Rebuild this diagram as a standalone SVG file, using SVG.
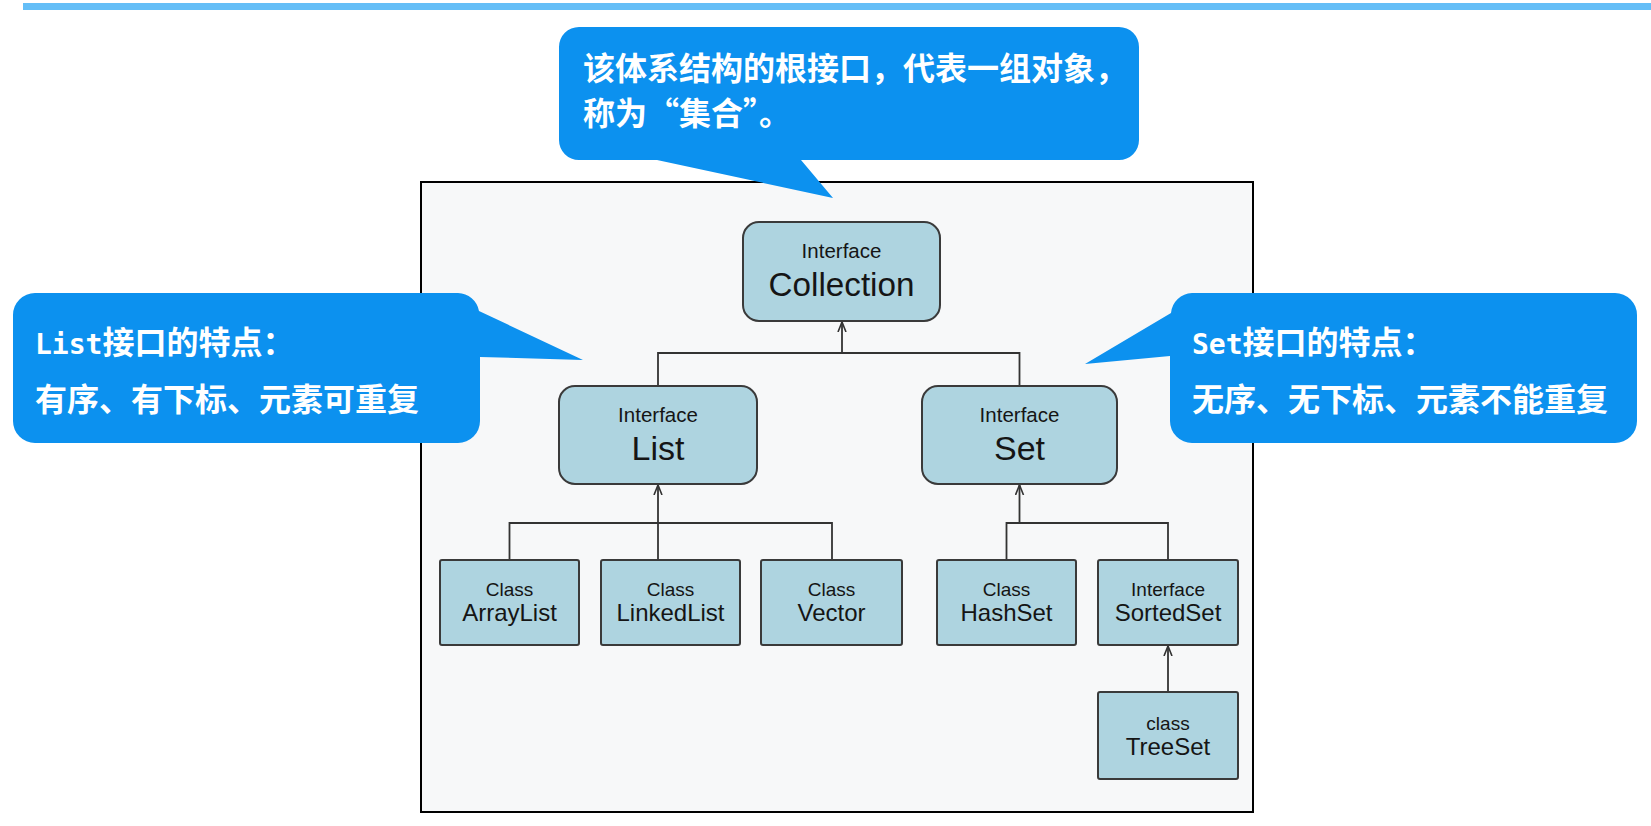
<svg xmlns="http://www.w3.org/2000/svg" width="1651" height="826" viewBox="0 0 1651 826">
<style>
.bubble{fill:#0c91ef}
.bt{font-family:"Noto Sans CJK SC","Noto Sans",sans-serif;font-weight:bold;fill:#ffffff}
.mono{font-family:"DejaVu Sans Mono","Liberation Mono",monospace;font-weight:bold}
.node{fill:#aed4e0;stroke:#3a3a3a;stroke-width:2}
.lbl{font-family:"Liberation Sans",Arial,sans-serif;fill:#151515;text-anchor:middle}
.conn{fill:none;stroke:#333333;stroke-width:1.8}
</style>
<defs>
<marker id="arr" viewBox="0 0 10 10" refX="10" refY="5" markerWidth="10" markerHeight="10" markerUnits="userSpaceOnUse" orient="auto">
<path d="M0,1 L10,5 L0,9" fill="none" stroke="#333333" stroke-width="1.6"/>
</marker>
</defs>
<rect x="0" y="0" width="1651" height="826" fill="#ffffff"/>
<rect id="topbar" x="23" y="3" width="1628" height="7" fill="#64bef7"/>
<rect id="frame" x="421" y="182" width="832" height="630" fill="#f7f8f9" stroke="#000000" stroke-width="2"/>

<g id="connectors">
<path class="conn" d="M842,353 V322" marker-end="url(#arr)"/>
<path class="conn" d="M658,386 V353 H1019.5 V386"/>
<path class="conn" d="M658,560 V485" marker-end="url(#arr)"/>
<path class="conn" d="M509.5,560 V523 H832 V560"/>
<path class="conn" d="M1019.5,523 V485" marker-end="url(#arr)"/>
<path class="conn" d="M1006.5,560 V523 H1168 V560"/>
<path class="conn" d="M1168,692 V646" marker-end="url(#arr)"/>
</g>

<g id="collection">
<rect class="node" x="743" y="222" width="197" height="99" rx="16"/>
<text class="lbl" x="841.5" y="258" font-size="20.5">Interface</text>
<text class="lbl" x="841.5" y="296" font-size="34" textLength="146" lengthAdjust="spacingAndGlyphs">Collection</text>
</g>
<g id="list">
<rect class="node" x="559" y="386" width="198" height="98" rx="16"/>
<text class="lbl" x="658" y="422" font-size="20.5">Interface</text>
<text class="lbl" x="658" y="460" font-size="34">List</text>
</g>
<g id="set">
<rect class="node" x="922" y="386" width="195" height="98" rx="16"/>
<text class="lbl" x="1019.5" y="422" font-size="20.5">Interface</text>
<text class="lbl" x="1019.5" y="460" font-size="34">Set</text>
</g>
<g id="arraylist">
<rect class="node" x="440" y="560" width="139" height="85" rx="2"/>
<text class="lbl" x="509.5" y="596" font-size="19">Class</text>
<text class="lbl" x="509.5" y="621" font-size="24">ArrayList</text>
</g>
<g id="linkedlist">
<rect class="node" x="601" y="560" width="139" height="85" rx="2"/>
<text class="lbl" x="670.5" y="596" font-size="19">Class</text>
<text class="lbl" x="670.5" y="621" font-size="24">LinkedList</text>
</g>
<g id="vector">
<rect class="node" x="761" y="560" width="141" height="85" rx="2"/>
<text class="lbl" x="831.5" y="596" font-size="19">Class</text>
<text class="lbl" x="831.5" y="621" font-size="24">Vector</text>
</g>
<g id="hashset">
<rect class="node" x="937" y="560" width="139" height="85" rx="2"/>
<text class="lbl" x="1006.5" y="596" font-size="19">Class</text>
<text class="lbl" x="1006.5" y="621" font-size="24">HashSet</text>
</g>
<g id="sortedset">
<rect class="node" x="1098" y="560" width="140" height="85" rx="2"/>
<text class="lbl" x="1168" y="596" font-size="19">Interface</text>
<text class="lbl" x="1168" y="621" font-size="24">SortedSet</text>
</g>
<g id="treeset">
<rect class="node" x="1098" y="692" width="140" height="87" rx="2"/>
<text class="lbl" x="1168" y="730" font-size="19">class</text>
<text class="lbl" x="1168" y="755" font-size="24">TreeSet</text>
</g>

<g id="callout-top">
<path class="bubble" d="M579,27 H1119 A20,20 0 0 1 1139,47 V140 A20,20 0 0 1 1119,160 H801 L833,198 L657,160 H579 A20,20 0 0 1 559,140 V47 A20,20 0 0 1 579,27 Z"/>
<text class="bt" x="583" y="80" font-size="32">该体系结构的根接口，代表一组对象，</text>
<text class="bt" x="583" y="125" font-size="32">称为“集合”。</text>
</g>
<g id="callout-list">
<path class="bubble" d="M35,293 H458 A22,22 0 0 1 479,311 L583,360 L480,357 V421 A22,22 0 0 1 458,443 H35 A22,22 0 0 1 13,421 V315 A22,22 0 0 1 35,293 Z"/>
<text class="bt" x="35" y="354" font-size="32"><tspan class="mono" font-size="28">List</tspan>接口的特点：</text>
<text class="bt" x="35" y="411" font-size="32">有序、有下标、元素可重复</text>
</g>
<g id="callout-set">
<path class="bubble" d="M1192,293 H1615 A22,22 0 0 1 1637,315 V421 A22,22 0 0 1 1615,443 H1192 A22,22 0 0 1 1170,421 V356 L1085,364 L1171,313 A22,22 0 0 1 1192,293 Z"/>
<text class="bt" x="1192" y="354" font-size="32"><tspan class="mono" font-size="28">Set</tspan>接口的特点：</text>
<text class="bt" x="1192" y="411" font-size="32">无序、无下标、元素不能重复</text>
</g>
</svg>
